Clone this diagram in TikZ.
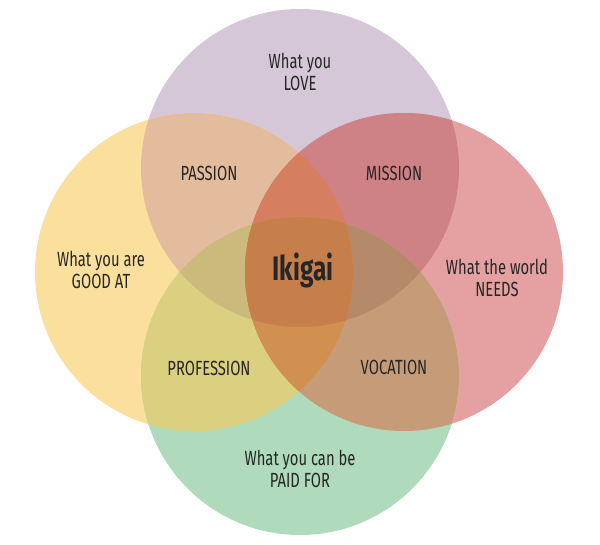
\documentclass[tikz,border=0pt]{standalone}
\usepackage{fontspec}
\setmainfont{Fira Sans}[FakeStretch=0.72]
\definecolor{lovec}{HTML}{D5C6D8}
\definecolor{goodc}{HTML}{FBE09D}
\definecolor{needc}{HTML}{E5A1A2}
\definecolor{paidc}{HTML}{AFDABB}
\definecolor{passionc}{HTML}{E3BC9D}
\definecolor{missionc}{HTML}{CF8285}
\definecolor{professionc}{HTML}{DBCF80}
\definecolor{vocationc}{HTML}{C69C78}
\definecolor{lgpc}{HTML}{CBBA7B}
\definecolor{lnpc}{HTML}{B58A6B}
\definecolor{lgnc}{HTML}{D57F60}
\definecolor{gnpc}{HTML}{D1904F}
\definecolor{ikigaic}{HTML}{C67F4A}
\newcommand{\ring}[1]{(#1) circle (159)}

\begin{document}
\begin{tikzpicture}[x=1pt, y=1pt, every node/.style={font=\fontsize{20.5}{22}\selectfont, text=black!85, align=center}]
        \useasboundingbox (0,0) rectangle (600,544);
        \coordinate (love) at (300,376);
        \coordinate (good) at (194,272);
        \coordinate (need) at (404,272);
        \coordinate (paid) at (300,168);

        % single circles
        \fill[lovec] \ring{love};
        \fill[goodc] \ring{good};
        \fill[needc] \ring{need};
        \fill[paidc] \ring{paid};

        % two circles
        \begin{scope} \clip \ring{love}; \fill[passionc] \ring{good}; \end{scope}
        \begin{scope} \clip \ring{love}; \fill[missionc] \ring{need}; \end{scope}
        \begin{scope} \clip \ring{paid}; \fill[professionc] \ring{good}; \end{scope}
        \begin{scope} \clip \ring{paid}; \fill[vocationc] \ring{need}; \end{scope}

        % three circles
        \begin{scope} \clip \ring{love}; \clip \ring{good}; \fill[lgpc] \ring{paid}; \end{scope}
        \begin{scope} \clip \ring{love}; \clip \ring{need}; \fill[lnpc] \ring{paid}; \end{scope}
        \begin{scope} \clip \ring{love}; \clip \ring{good}; \fill[lgnc] \ring{need}; \end{scope}
        \begin{scope} \clip \ring{paid}; \clip \ring{good}; \fill[gnpc] \ring{need}; \end{scope}

        % all four
        \begin{scope}
                \clip \ring{love}; \clip \ring{good}; \clip \ring{need};
                \fill[ikigaic] \ring{paid};
        \end{scope}

        \node (lovetext) at (300,472) {What you\\LOVE};
        \node (goodtext) at (101,274) {What you are\\GOOD AT};
        \node (needtext) at (497,266) {What the world\\NEEDS};
        \node (paidtext) at (300,75) {What you can be\\PAID FOR};

        \node (passion) at (209,371) {PASSION};
        \node (mission) at (394,371) {MISSION};
        \node (profession) at (209,176) {PROFESSION};
        \node (vocation) at (394,177) {VOCATION};

        \node[font=\fontsize{34}{38}\selectfont\bfseries] (ikigai) at (303,274) {Ikigai};
    \end{tikzpicture}
\end{document}
